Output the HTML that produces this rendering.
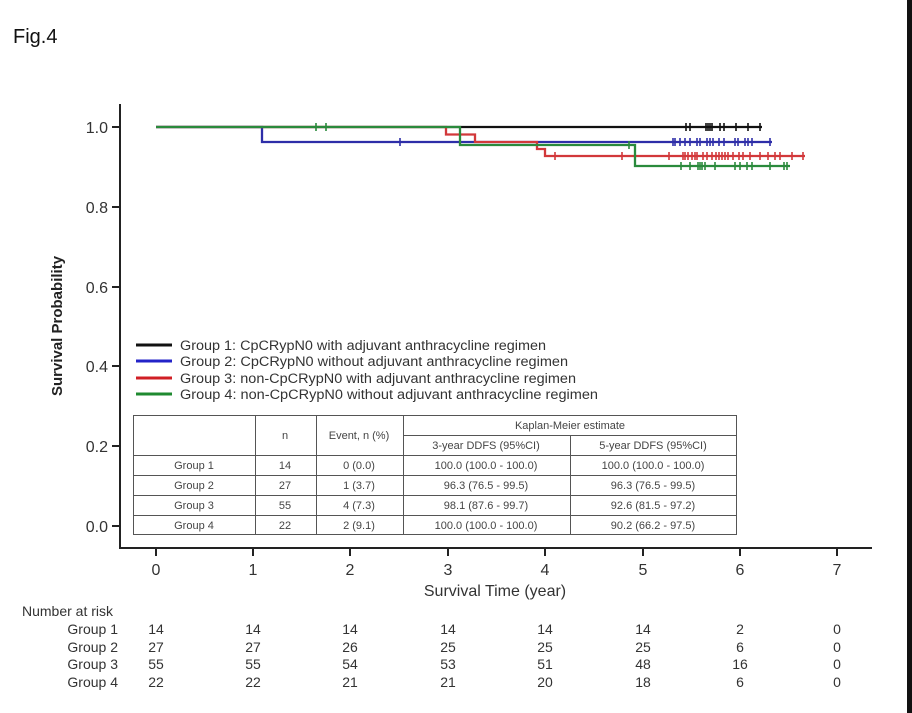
<!DOCTYPE html>
<html><head><meta charset="utf-8"><style>
html,body{margin:0;padding:0;background:#fff;}
svg{display:block;}
text{font-family:"Liberation Sans",sans-serif;}
</style></head><body>
<svg width="912" height="713" viewBox="0 0 912 713" xmlns="http://www.w3.org/2000/svg">
<rect width="912" height="713" fill="#fff"/>
<rect x="907" y="0" width="5" height="713" fill="#111"/>
<text x="13" y="43" font-size="20" fill="#111">Fig.4</text>

<!-- axes -->
<g stroke="#222" stroke-width="2" fill="none">
<line x1="120" y1="104" x2="120" y2="549"/>
<line x1="119" y1="548" x2="872" y2="548"/>
<line x1="112" y1="127" x2="120" y2="127"/>
<line x1="112" y1="207" x2="120" y2="207"/>
<line x1="112" y1="287" x2="120" y2="287"/>
<line x1="112" y1="366" x2="120" y2="366"/>
<line x1="112" y1="446" x2="120" y2="446"/>
<line x1="112" y1="526" x2="120" y2="526"/>
<line x1="156" y1="548" x2="156" y2="556"/>
<line x1="253" y1="548" x2="253" y2="556"/>
<line x1="350" y1="548" x2="350" y2="556"/>
<line x1="448" y1="548" x2="448" y2="556"/>
<line x1="545" y1="548" x2="545" y2="556"/>
<line x1="643" y1="548" x2="643" y2="556"/>
<line x1="740" y1="548" x2="740" y2="556"/>
<line x1="837" y1="548" x2="837" y2="556"/>
</g>
<g font-size="16" fill="#333" text-anchor="end">
<text x="108" y="133">1.0</text>
<text x="108" y="213">0.8</text>
<text x="108" y="293">0.6</text>
<text x="108" y="372">0.4</text>
<text x="108" y="452">0.2</text>
<text x="108" y="532">0.0</text>
</g>
<g font-size="16" fill="#333" text-anchor="middle">
<text x="156" y="575">0</text>
<text x="253" y="575">1</text>
<text x="350" y="575">2</text>
<text x="448" y="575">3</text>
<text x="545" y="575">4</text>
<text x="643" y="575">5</text>
<text x="740" y="575">6</text>
<text x="837" y="575">7</text>
<text x="495" y="596">Survival Time (year)</text>
</g>
<text transform="translate(62,326) rotate(-90)" font-size="15" fill="#222" text-anchor="middle" font-weight="bold">Survival Probability</text>

<!-- curves -->
<g fill="none" stroke-width="2.3">
<path d="M156 127 H762" stroke="#111"/>
<path d="M156 127 H262 V142 H772" stroke="#2e2ea8"/>
<path d="M156 127 H446 V134.5 H475 V142 H537 V149 H545 V156 H805" stroke="#d2383a"/>
<path d="M156 127 H460 V145 H635 V166 H790" stroke="#2a8a3c"/>
</g>
<g stroke-width="1.6">
<path stroke="#111" d="M686 123v8M690 123v8M706 123v8M708 123v8M710 123v8M712 123v8M720 123v8M724 123v8M736 123v8M748 123v8M760 123v8"/>
<path stroke="#2e2ea8" d="M400 138v8M673 138v8M675 138v8M680 138v8M685 138v8M690 138v8M697 138v8M700 138v8M707 138v8M710 138v8M713 138v8M719 138v8M724 138v8M735 138v8M738 138v8M745 138v8M748 138v8M752 138v8M770 138v8"/>
<path stroke="#d2383a" d="M555 152v8M622 152v8M669 152v8M683 152v8M685 152v8M688 152v8M692 152v8M695 152v8M697 152v8M703 152v8M707 152v8M712 152v8M716 152v8M719 152v8M722 152v8M725 152v8M728 152v8M733 152v8M739 152v8M743 152v8M750 152v8M760 152v8M768 152v8M775 152v8M780 152v8M792 152v8M803 152v8"/>
<path stroke="#2a8a3c" d="M316 123v8M326 123v8M629 141v8M681 162v8M690 162v8M698 162v8M700 162v8M702 162v8M705 162v8M715 162v8M735 162v8M740 162v8M747 162v8M752 162v8M770 162v8M784 162v8M787 162v8"/>
</g>

<!-- legend -->
<g stroke-width="3">
<line x1="136" y1="345" x2="172" y2="345" stroke="#111"/>
<line x1="136" y1="361" x2="172" y2="361" stroke="#2323c8"/>
<line x1="136" y1="378" x2="172" y2="378" stroke="#d01f25"/>
<line x1="136" y1="394" x2="172" y2="394" stroke="#1f8a30"/>
</g>
<g font-size="13.5" fill="#333">
<text x="180" y="350" textLength="366" lengthAdjust="spacingAndGlyphs">Group 1: CpCRypN0 with adjuvant anthracycline regimen</text>
<text x="180" y="366" textLength="388" lengthAdjust="spacingAndGlyphs">Group 2: CpCRypN0 without adjuvant anthracycline regimen</text>
<text x="180" y="383" textLength="396" lengthAdjust="spacingAndGlyphs">Group 3: non-CpCRypN0 with adjuvant anthracycline regimen</text>
<text x="180" y="399" textLength="418" lengthAdjust="spacingAndGlyphs">Group 4: non-CpCRypN0 without adjuvant anthracycline regimen</text>
</g>

<!-- table -->
<g stroke="#555" stroke-width="1" fill="none">
<rect x="133.5" y="415.5" width="603" height="119"/>
<line x1="255.5" y1="415" x2="255.5" y2="535"/>
<line x1="316.5" y1="415" x2="316.5" y2="535"/>
<line x1="403.5" y1="415" x2="403.5" y2="535"/>
<line x1="570.5" y1="435" x2="570.5" y2="535"/>
<line x1="403" y1="435.5" x2="737" y2="435.5"/>
<line x1="133" y1="455.5" x2="737" y2="455.5"/>
<line x1="133" y1="475.5" x2="737" y2="475.5"/>
<line x1="133" y1="495.5" x2="737" y2="495.5"/>
<line x1="133" y1="515.5" x2="737" y2="515.5"/>
</g>
<g font-size="11" fill="#444" text-anchor="middle">
<text x="570" y="429">Kaplan-Meier estimate</text>
<text x="285" y="439">n</text>
<text x="359" y="439">Event, n (%)</text>
<text x="486" y="449">3-year DDFS (95%CI)</text>
<text x="653" y="449">5-year DDFS (95%CI)</text>
<text x="194" y="469">Group 1</text><text x="285" y="469">14</text><text x="359" y="469">0 (0.0)</text><text x="486" y="469">100.0 (100.0 - 100.0)</text><text x="653" y="469">100.0 (100.0 - 100.0)</text>
<text x="194" y="489">Group 2</text><text x="285" y="489">27</text><text x="359" y="489">1 (3.7)</text><text x="486" y="489">96.3 (76.5 - 99.5)</text><text x="653" y="489">96.3 (76.5 - 99.5)</text>
<text x="194" y="509">Group 3</text><text x="285" y="509">55</text><text x="359" y="509">4 (7.3)</text><text x="486" y="509">98.1 (87.6 - 99.7)</text><text x="653" y="509">92.6 (81.5 - 97.2)</text>
<text x="194" y="529">Group 4</text><text x="285" y="529">22</text><text x="359" y="529">2 (9.1)</text><text x="486" y="529">100.0 (100.0 - 100.0)</text><text x="653" y="529">90.2 (66.2 - 97.5)</text>
</g>

<!-- number at risk -->
<g font-size="14" fill="#333">
<text x="22" y="616">Number at risk</text>
<g text-anchor="end">
<text x="118" y="634">Group 1</text>
<text x="118" y="652">Group 2</text>
<text x="118" y="669">Group 3</text>
<text x="118" y="687">Group 4</text>
</g>
<g text-anchor="middle">
<text x="156" y="634">14</text><text x="253" y="634">14</text><text x="350" y="634">14</text><text x="448" y="634">14</text><text x="545" y="634">14</text><text x="643" y="634">14</text><text x="740" y="634">2</text><text x="837" y="634">0</text>
<text x="156" y="652">27</text><text x="253" y="652">27</text><text x="350" y="652">26</text><text x="448" y="652">25</text><text x="545" y="652">25</text><text x="643" y="652">25</text><text x="740" y="652">6</text><text x="837" y="652">0</text>
<text x="156" y="669">55</text><text x="253" y="669">55</text><text x="350" y="669">54</text><text x="448" y="669">53</text><text x="545" y="669">51</text><text x="643" y="669">48</text><text x="740" y="669">16</text><text x="837" y="669">0</text>
<text x="156" y="687">22</text><text x="253" y="687">22</text><text x="350" y="687">21</text><text x="448" y="687">21</text><text x="545" y="687">20</text><text x="643" y="687">18</text><text x="740" y="687">6</text><text x="837" y="687">0</text>
</g>
</g>
</svg>
</body></html>
